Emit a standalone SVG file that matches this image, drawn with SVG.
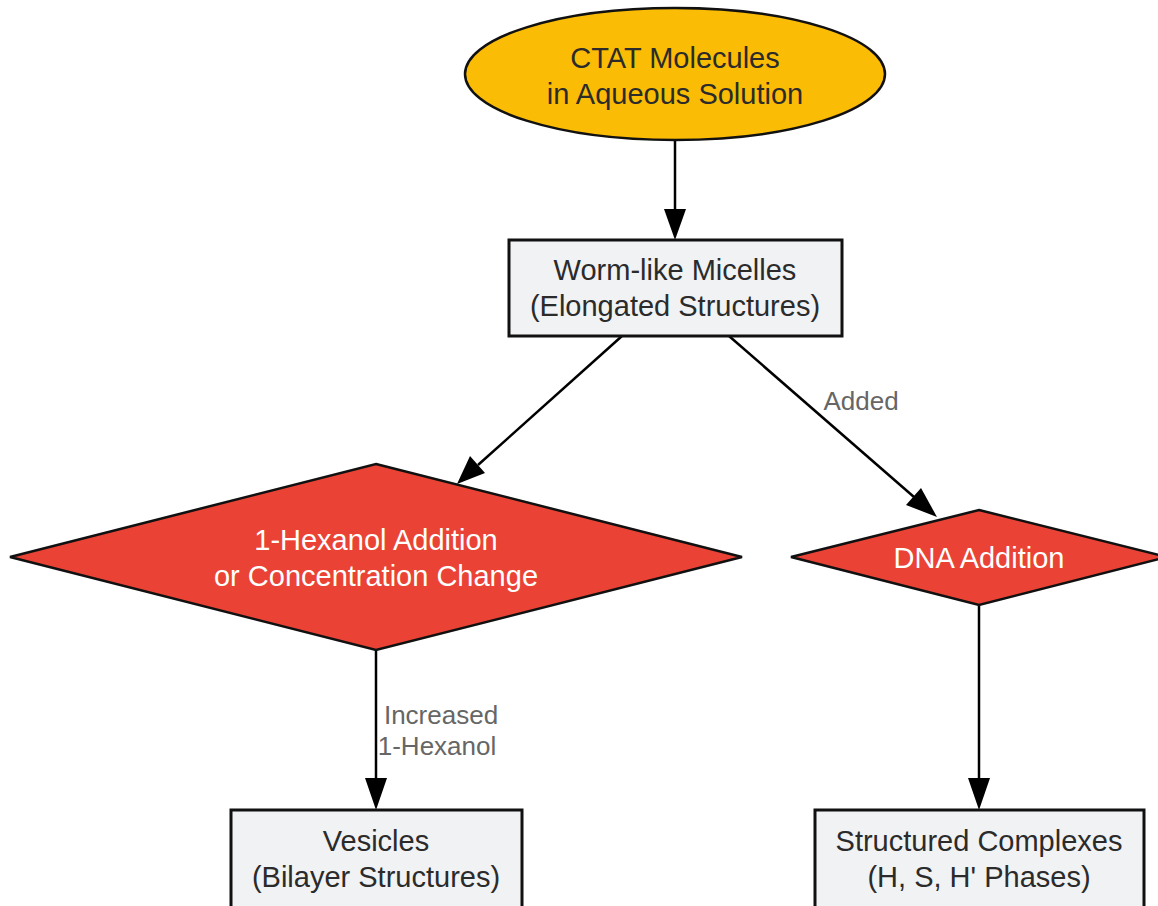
<svg xmlns="http://www.w3.org/2000/svg" width="1158" height="906" viewBox="0 0 1158 906">
<style>
.t{font-family:"Liberation Sans",Arial,sans-serif;font-size:29px;fill:#2b2b2b;text-anchor:middle}
.w{fill:#ffffff}
.box{fill:#f1f2f4;stroke:#111;stroke-width:3}
.dia{fill:#ea4335;stroke:#111;stroke-width:2.5}
.edge{stroke:#000;stroke-width:2.5;fill:none}
.lbl{font-family:"Liberation Sans",Arial,sans-serif;font-size:26px;fill:#666;text-anchor:middle}
</style>
<g id="connectors">
<line class="edge" x1="675" y1="141" x2="675" y2="212"/>
<polygon points="664,209 686,209 675,240" fill="#000"/>
<line class="edge" x1="622" y1="336" x2="478" y2="465"/>
<polygon points="470,456 485,473 457,484" fill="#000"/>
<line class="edge" x1="729" y1="336" x2="914" y2="497"/>
<polygon points="906,505 921,488 937,517" fill="#000"/>
<text class="lbl" x="861" y="410">Added</text>
<line class="edge" x1="376" y1="650" x2="376" y2="782"/>
<polygon points="365,778 387,778 376,810" fill="#000"/>
<text class="lbl" x="441" y="724">Increased</text>
<text class="lbl" x="437" y="755">1-Hexanol</text>
<line class="edge" x1="979" y1="605" x2="979" y2="782"/>
<polygon points="968,778 990,778 979,810" fill="#000"/>
</g>
<g id="ctat">
<ellipse cx="675" cy="74" rx="210" ry="66" fill="#fbbc05" stroke="#111" stroke-width="2.5"/>
<text class="t" x="675" y="68">CTAT Molecules</text>
<text class="t" x="675" y="104">in Aqueous Solution</text>
</g>
<g id="worm">
<rect class="box" x="509" y="240" width="333" height="96"/>
<text class="t" x="675" y="280">Worm-like Micelles</text>
<text class="t" x="675" y="316">(Elongated Structures)</text>
</g>
<g id="hexanol">
<polygon class="dia" points="376,464 742,557 376,650 10,557"/>
<text class="t w" x="376" y="550">1-Hexanol Addition</text>
<text class="t w" x="376" y="586">or Concentration Change</text>
</g>
<g id="dna">
<polygon class="dia" points="979,510 1167,557 979,605 791,557"/>
<text class="t w" x="979" y="568">DNA Addition</text>
</g>
<g id="vesicles">
<rect class="box" x="231" y="810" width="291" height="110"/>
<text class="t" x="376" y="851">Vesicles</text>
<text class="t" x="376" y="887">(Bilayer Structures)</text>
</g>
<g id="complexes">
<rect class="box" x="815" y="810" width="329" height="110"/>
<text class="t" x="979" y="851">Structured Complexes</text>
<text class="t" x="979" y="887">(H, S, H' Phases)</text>
</g>
</svg>
